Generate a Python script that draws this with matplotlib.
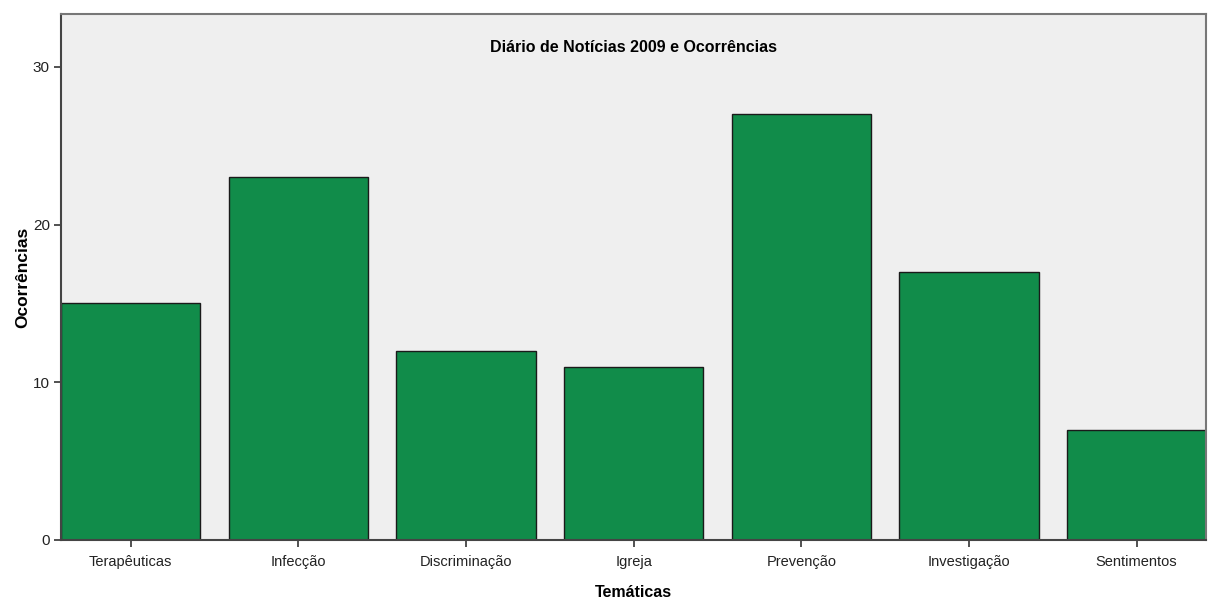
import matplotlib
matplotlib.use("Agg")
import matplotlib.pyplot as plt

categories = ["Terapêuticas", "Infecção", "Discriminação", "Igreja",
              "Prevenção", "Investigação", "Sentimentos"]
ocorrencias = [15, 23, 12, 11, 27, 17, 7]
yticks = [0, 10, 20, 30]

plt.rcParams["font.family"] = ["Liberation Sans", "DejaVu Sans"]

fig = plt.figure(figsize=(12.08, 6.02), dpi=100)
ax = fig.add_axes([0.0505, 0.103, 0.948, 0.8737])
ax.set_facecolor("#efefef")

width = 0.83
x = list(range(len(categories)))
ax.bar(x, ocorrencias, width=width, color="#118c4a", edgecolor="#1a1a1a", linewidth=1.0)

ax.set_xlim(-width / 2, len(categories) - 1 + width / 2)
ax.set_ylim(0, 33.35)
ax.set_xticks(x)
ax.set_xticklabels(categories, fontsize=10.5, color="#222222")
ax.set_yticks(yticks)
ax.set_yticklabels([str(v) for v in yticks], fontsize=11, color="#222222")
ax.tick_params(axis="both", length=5, width=1.2, color="#333333", pad=3)
ax.tick_params(axis="x", pad=6)

for side in ["left", "bottom"]:
    ax.spines[side].set_color("#444444")
    ax.spines[side].set_linewidth(1.5)
for side in ["top", "right"]:
    ax.spines[side].set_color("#777777")
    ax.spines[side].set_linewidth(1.5)

ax.set_title("Diário de Notícias 2009 e Ocorrências", y=0.912, fontsize=11.5,
             fontweight="bold", color="black")
ax.set_xlabel("Temáticas", fontsize=11.5, fontweight="bold", labelpad=11)
ax.set_ylabel("Ocorrências", fontsize=12.5, fontweight="bold", labelpad=2)

fig.savefig("out.png", dpi=100, facecolor="white")
